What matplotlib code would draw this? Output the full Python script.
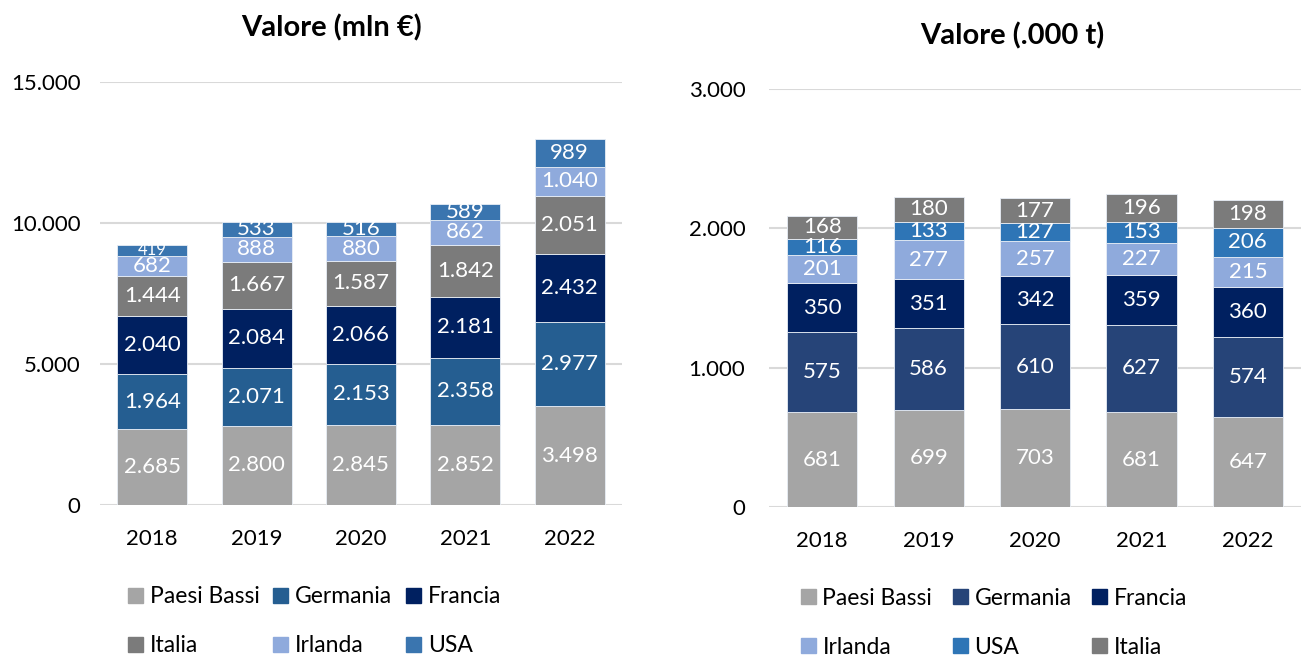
import matplotlib.pyplot as plt
import numpy as np
from matplotlib.patches import Patch

plt.rcParams['font.family'] = ['Lato', 'DejaVu Sans']

years = ['2018', '2019', '2020', '2021', '2022']

# left chart: value in mln EUR (stack order bottom -> top)
val_paesi_bassi = [2685, 2800, 2845, 2852, 3498]
val_germania = [1964, 2071, 2153, 2358, 2977]
val_francia = [2040, 2084, 2066, 2181, 2432]
val_italia = [1444, 1667, 1587, 1842, 2051]
val_irlanda = [682, 888, 880, 862, 1040]
val_usa = [419, 533, 516, 589, 989]

# right chart: volume in .000 t (stack order bottom -> top)
vol_paesi_bassi = [681, 699, 703, 681, 647]
vol_germania = [575, 586, 610, 627, 574]
vol_francia = [350, 351, 342, 359, 360]
vol_irlanda = [201, 277, 257, 227, 215]
vol_usa = [116, 133, 127, 153, 206]
vol_italia = [168, 180, 177, 196, 198]

left_ticks = [0, 5000, 10000, 15000]
right_ticks = [0, 1000, 2000, 3000]


def fmt(v):
    return f'{v:,}'.replace(',', '.')


def stacked(ax, series, ticks, width, ypad):
    x = np.arange(len(years))
    bottom = np.zeros(len(years))
    for name, vals, color in series:
        vals = np.array(vals)
        ax.bar(x, vals, width, bottom=bottom, color=color, label=name,
               edgecolor='#e8eef6', linewidth=0.6, zorder=3)
        for xi, b, v in zip(x, bottom, vals):
            # very thin segments get a smaller label so it fits
            fs = 12 if v / ticks[-1] < 0.03 else 16
            ax.text(xi, b + v / 2, fmt(v), ha='center', va='center',
                    color='white', fontsize=fs, zorder=4)
        bottom += vals
    ax.set_xticks(x)
    ax.set_xticklabels(years, fontsize=16)
    ax.set_yticks(ticks)
    ax.set_yticklabels([fmt(t) for t in ticks], fontsize=16)
    ax.set_ylim(ticks[0], ticks[-1])
    ax.set_xlim(-0.5, len(years) - 0.5)
    ax.grid(axis='y', color='#d9d9d9', linewidth=1.5, zorder=0)
    for s in ax.spines.values():
        s.set_visible(False)
    ax.tick_params(length=0)
    ax.tick_params(axis='x', pad=17)
    ax.tick_params(axis='y', pad=ypad)


fig = plt.figure(figsize=(13.11, 6.57), dpi=100)

ax1 = fig.add_axes([0.0763, 0.2314, 0.398, 0.6438])
left_series = [
    ('Paesi Bassi', val_paesi_bassi, '#a5a5a5'),
    ('Germania', val_germania, '#255e91'),
    ('Francia', val_francia, '#002060'),
    ('Italia', val_italia, '#7b7b7b'),
    ('Irlanda', val_irlanda, '#8faadc'),
    ('USA', val_usa, '#3a75af'),
]
stacked(ax1, left_series, left_ticks, 0.67, 14)
fig.text(0.253, 0.957, 'Valore (mln €)', ha='center', va='center',
         fontsize=21, fontweight='bold')

ax2 = fig.add_axes([0.5866, 0.2283, 0.4058, 0.6362])
right_series = [
    ('Paesi Bassi', vol_paesi_bassi, '#a5a5a5'),
    ('Germania', vol_germania, '#264478'),
    ('Francia', vol_francia, '#002060'),
    ('Irlanda', vol_irlanda, '#8faadc'),
    ('USA', vol_usa, '#2e75b6'),
    ('Italia', vol_italia, '#7b7b7b'),
]
stacked(ax2, right_series, right_ticks, 0.66, 17)
fig.text(0.772, 0.945, 'Valore (.000 t)', ha='center', va='center',
         fontsize=21, fontweight='bold')


def legend(series, x, y, colsp):
    # fill row-wise for ncol=3
    order = [0, 3, 1, 4, 2, 5]
    handles = [Patch(color=series[i][2], label=series[i][0]) for i in order]
    fig.legend(handles=handles, ncol=3, loc='upper left',
               bbox_to_anchor=(x, y), frameon=False, fontsize=16.5,
               handlelength=0.65, handleheight=0.65, handletextpad=0.3,
               columnspacing=colsp, labelspacing=1.22, borderpad=0)


legend(left_series, 0.089, 0.125, 0.6)
legend(right_series, 0.602, 0.123, 0.9)

fig.savefig('out.png', dpi=100)
